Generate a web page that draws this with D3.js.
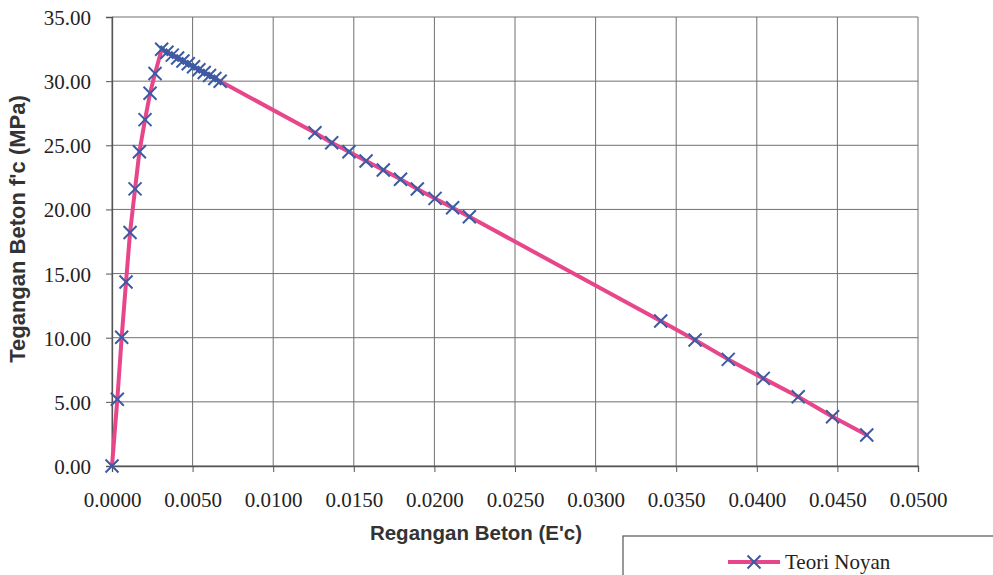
<!DOCTYPE html>
<html>
<head>
<meta charset="utf-8">
<script src="https://cdn.jsdelivr.net/npm/d3@7"></script>
<style>
  html, body { margin: 0; padding: 0; background: #fff; }
  svg { display: block; }
</style>
</head>
<body>
<svg id="chart" width="993" height="575"></svg>
<script>
// Stress–strain curve of confined concrete (Noyan model)
const strain = [
  0.00000, 0.00033, 0.00060, 0.00087, 0.00112, 0.00143, 0.00170, 0.00205, 0.00236, 0.00267,
  0.00308, 0.00341, 0.00374, 0.00407, 0.00440, 0.00473, 0.00506, 0.00539, 0.00572, 0.00605,
  0.00638, 0.00671,
  0.01259, 0.01363, 0.01470, 0.01576, 0.01683, 0.01790, 0.01894, 0.02004, 0.02113, 0.02217,
  0.03404, 0.03617, 0.03823, 0.04040, 0.04257, 0.04470, 0.04682
];
const stress = [
  0.00, 5.20, 10.03, 14.34, 18.20, 21.60, 24.50, 27.00, 29.05, 30.60,
  32.48, 32.25, 32.03, 31.80, 31.57, 31.35, 31.12, 30.89, 30.67, 30.44,
  30.21, 29.99,
  25.98, 25.20, 24.50, 23.77, 23.07, 22.35, 21.59, 20.86, 20.13, 19.43,
  11.30, 9.82, 8.31, 6.83, 5.40, 3.84, 2.42
];
const xTicks = [0, 0.005, 0.010, 0.015, 0.020, 0.025, 0.030, 0.035, 0.040, 0.045, 0.050];
const yTicks = [0, 5, 10, 15, 20, 25, 30, 35];
const seriesName = "Teori Noyan";

const svg = d3.select("#chart");
const plot = { left: 112, right: 918, top: 17, bottom: 466 };

const x = d3.scaleLinear().domain([0, 0.05]).range([plot.left, plot.right]);
const y = d3.scaleLinear().domain([0, 35]).range([plot.bottom, plot.top]);

const gridColor = "#707070";
const lineColor = "#e8468a";
const markColor = "#3b5ba5";
const serif = "'Liberation Serif', 'Times New Roman', serif";
const sans = "'Liberation Sans', Arial, sans-serif";

// grid
const grid = svg.append("g");
grid.selectAll("line.gx").data(xTicks).join("line")
  .attr("x1", d => x(d)).attr("x2", d => x(d))
  .attr("y1", plot.top).attr("y2", plot.bottom)
  .attr("stroke", gridColor).attr("stroke-width", 1);
grid.selectAll("line.gy").data(yTicks).join("line")
  .attr("x1", plot.left).attr("x2", plot.right)
  .attr("y1", d => y(d)).attr("y2", d => y(d))
  .attr("stroke", gridColor).attr("stroke-width", 1);

// axes
const xAxis = d3.axisBottom(x).tickValues(xTicks).tickSize(6).tickPadding(20)
  .tickFormat(d3.format(".4f"));
const yAxis = d3.axisLeft(y).tickValues(yTicks).tickSize(6).tickPadding(15)
  .tickFormat(d3.format(".2f"));

const gx = svg.append("g").attr("transform", `translate(0,${plot.bottom})`).call(xAxis);
const gy = svg.append("g").attr("transform", `translate(${plot.left},0)`).call(yAxis);
[gx, gy].forEach(g => {
  g.attr("font-family", serif).attr("font-size", 21);
  g.select(".domain").attr("stroke", "#555").attr("stroke-width", 1.3);
  g.selectAll(".tick line").attr("stroke", "#555");
  g.selectAll("text").attr("fill", "#222");
});
gy.selectAll(".tick text").attr("dy", "0.36em");

// axis titles
svg.append("text")
  .attr("x", 476).attr("y", 540)
  .attr("text-anchor", "middle")
  .attr("font-family", sans).attr("font-weight", "bold").attr("font-size", 20.5)
  .attr("fill", "#333")
  .text("Regangan Beton (E'c)");
svg.append("text")
  .attr("transform", "translate(25,229) rotate(-90)")
  .attr("text-anchor", "middle")
  .attr("font-family", sans).attr("font-weight", "bold").attr("font-size", 22)
  .attr("fill", "#333")
  .text("Tegangan Beton f'c (MPa)");

// curve
const pts = strain.map((s, i) => [s, stress[i]]);
const line = d3.line().x(d => x(d[0])).y(d => y(d[1]));
svg.append("path").datum(pts)
  .attr("d", line)
  .attr("fill", "none").attr("stroke", lineColor)
  .attr("stroke-width", 4).attr("stroke-linejoin", "round").attr("stroke-linecap", "round");

// cross markers
const m = 6.5;
const crossPath = (cx, cy) => `M${cx - m},${cy - m}L${cx + m},${cy + m}M${cx - m},${cy + m}L${cx + m},${cy - m}`;
svg.append("g").selectAll("path").data(pts).join("path")
  .attr("d", d => crossPath(x(d[0]), y(d[1])))
  .attr("stroke", markColor).attr("stroke-width", 2).attr("fill", "none");

// legend
const lg = svg.append("g");
lg.append("rect")
  .attr("x", 623).attr("y", 536).attr("width", 400).attr("height", 80)
  .attr("fill", "#fff").attr("stroke", "#555").attr("stroke-width", 1.2);
lg.append("line")
  .attr("x1", 728).attr("x2", 780).attr("y1", 562).attr("y2", 562)
  .attr("stroke", lineColor).attr("stroke-width", 4);
lg.append("path").attr("d", crossPath(754, 562))
  .attr("stroke", markColor).attr("stroke-width", 2).attr("fill", "none");
lg.append("text")
  .attr("x", 785).attr("y", 569)
  .attr("font-family", serif).attr("font-size", 21).attr("fill", "#222")
  .text(seriesName);
</script>
</body>
</html>
